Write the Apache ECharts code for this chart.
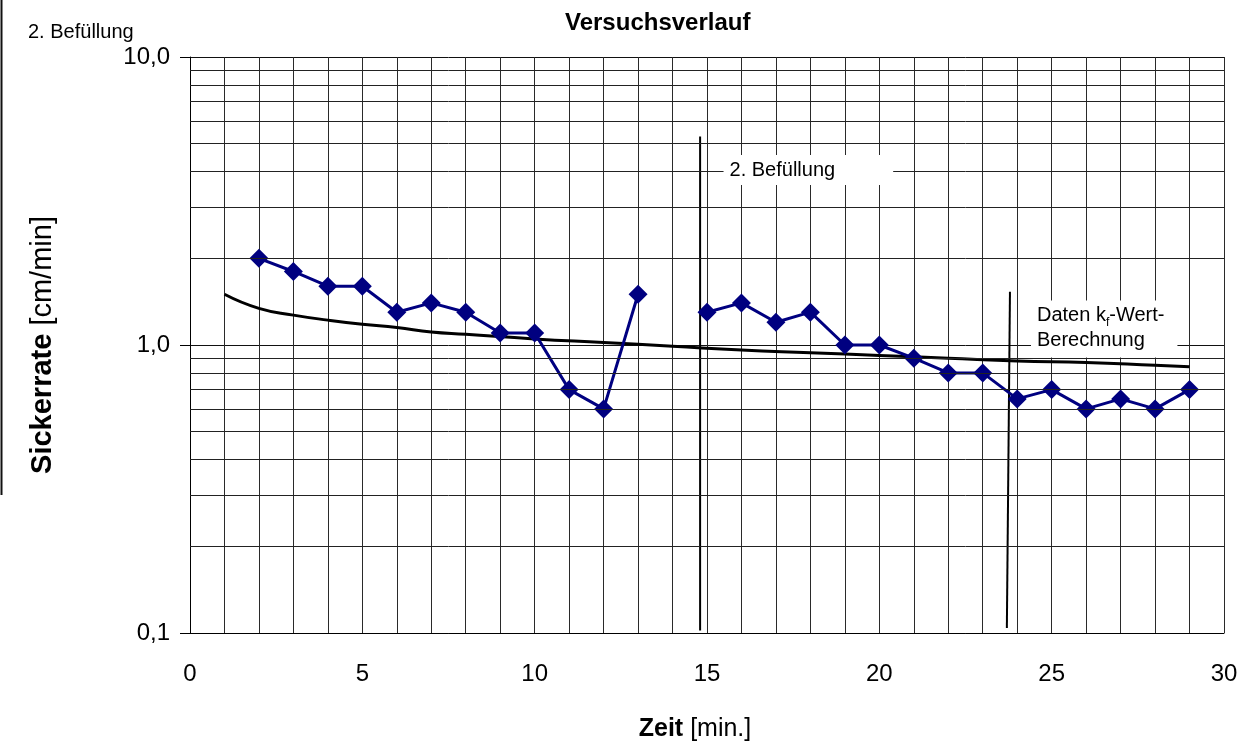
<!DOCTYPE html>
<html><head><meta charset="utf-8">
<script src="https://cdn.jsdelivr.net/npm/echarts@6/dist/echarts.min.js"></script>
<style>html,body{margin:0;padding:0;background:#fff}#c{width:1251px;height:747px}</style>
</head><body><div id="c"></div>
<script>
const FONT = "'Liberation Sans', Arial, Helvetica, sans-serif";

// measured series (time in min, rate in cm/min); null = gap (refill)
const times = [2,3,4,5,6,7,8,9,10,11,12,13,14,15,16,17,18,19,20,21,22,23,24,25,26,27,28,29];
const rates = [2.0,1.8,1.6,1.6,1.3,1.4,1.3,1.1,1.1,0.7,0.6,1.5,null,1.3,1.4,1.2,1.3,1.0,1.0,0.9,0.8,0.8,0.65,0.7,0.6,0.65,0.6,0.7];

// trend curve
const trendTimes = [1,2,3,4,5,6,7,8,10,12,14,16,18,20,22,24,26,28,29];
const trendRates = [1.50,1.34,1.27,1.22,1.18,1.15,1.11,1.09,1.05,1.02,0.99,0.96,0.94,0.92,0.90,0.88,0.87,0.85,0.84];

// axis ticks
const yMajorTicks = [0.1, 1, 10];
const yTickLabels = ['0,1', '1,0', '10,0'];
const yMinorGrid = [0.2,0.3,0.4,0.5,0.6,0.7,0.8,0.9,2,3,4,5,6,7,8,9];
const xLabelTicks = [0,5,10,15,20,25,30];

// annotation lines
const refillLineX = [14.8, 14.8];
const refillLineY = [0.102, 5.3];
const kfLineX = [23.7, 23.79];
const kfLineY = [0.104, 1.53];

// annotation labels (anchor points in data coords)
const refillNote = [15.48, 4.05];
const kfNote = [24.4, 1.137];

const chart = echarts.init(document.getElementById('c'), null, {renderer: 'canvas'});

const option = {
  animation: false,
  backgroundColor: '#fff',
  textStyle: {fontFamily: FONT},
  title: {
    text: 'Versuchsverlauf', left: 565, top: 11, padding: 0,
    textStyle: {fontSize: 24, fontWeight: 'bold', color: '#000', fontFamily: FONT}
  },
  grid: {left: 190, right: 27, top: 57, bottom: 114},
  xAxis: {
    type: 'value', min: 0, max: 30, interval: 1,
    axisLine: {show: true, onZero: false, lineStyle: {color: '#000', width: 1}},
    axisTick: {show: false},
    axisLabel: {
      formatter: v => xLabelTicks.includes(v) ? String(v) : '',
      fontSize: 24, color: '#000', margin: 29, fontFamily: FONT
    },
    splitLine: {show: true, lineStyle: {color: '#2a2a2a', width: 1}},
    name: '{b|Zeit}{r| [min.]}',
    nameLocation: 'middle', nameGap: 84,
    nameTextStyle: {
      padding: [0, 24, 0, 0],
      rich: {
        b: {fontSize: 25, fontWeight: 'bold', color: '#000', fontFamily: FONT},
        r: {fontSize: 25, color: '#000', fontFamily: FONT}
      }
    }
  },
  yAxis: {
    type: 'log', logBase: 10, min: 0.1, max: 10,
    axisLine: {show: true, lineStyle: {color: '#000', width: 1}},
    axisTick: {show: true, length: 10, inside: false, lineStyle: {color: '#000'}},
    axisLabel: {
      formatter: v => {
        let best = 0;
        yMajorTicks.forEach((t, i) => { if (Math.abs(Math.log10(t) - Math.log10(v)) < Math.abs(Math.log10(yMajorTicks[best]) - Math.log10(v))) best = i; });
        return yTickLabels[best];
      },
      fontSize: 24, color: '#000', margin: 20, fontFamily: FONT
    },
    splitLine: {show: true, lineStyle: {color: '#111', width: 1}},
    minorTick: {show: false},
    name: '{b|Sickerrate}{r| [cm/min]}',
    nameLocation: 'middle', nameGap: 133, nameRotate: 90,
    nameTextStyle: {
      rich: {
        b: {fontSize: 29, fontWeight: 'bold', color: '#000', fontFamily: FONT},
        r: {fontSize: 29, color: '#000', fontFamily: FONT}
      }
    }
  },
  series: [
    {
      name: 'grid', type: 'line', data: [[0, null]], z: 1, silent: true, showSymbol: false,
      markLine: {
        silent: true, symbol: ['none', 'none'], label: {show: false},
        lineStyle: {color: '#222', width: 1, type: 'solid'},
        emphasis: {disabled: true},
        data: yMinorGrid.map(v => ({yAxis: v}))
      }
    },
    {
      name: 'refill', type: 'line', z: 2, showSymbol: false, silent: true,
      data: refillLineX.map((x, i) => [x, refillLineY[i]]),
      lineStyle: {color: '#000', width: 2}
    },
    {
      name: 'kf', type: 'line', z: 2, showSymbol: false, silent: true,
      data: kfLineX.map((x, i) => [x, kfLineY[i]]),
      lineStyle: {color: '#000', width: 2}
    },
    {
      name: 'trend', type: 'line', z: 3, showSymbol: false, smooth: true, silent: true,
      data: trendTimes.map((t, i) => [t, trendRates[i]]),
      lineStyle: {color: '#000', width: 3}
    },
    {
      name: 'Sickerrate', type: 'line', z: 4, connectNulls: false,
      data: times.map((t, i) => [t, rates[i] === null ? '-' : rates[i]]),
      symbol: 'diamond', symbolSize: 19,
      lineStyle: {color: '#000080', width: 3},
      itemStyle: {color: '#000080'}
    },
    {
      name: 'notes', type: 'scatter', z: 10, symbol: 'circle', symbolSize: 0, silent: true,
      itemStyle: {color: 'rgba(0,0,0,0)', opacity: 1},
      data: [
        {
          value: refillNote,
          label: {
            show: true, position: 'right', distance: 0, opacity: 1,
            formatter: '2. Befüllung',
            fontSize: 20, color: '#000', fontFamily: FONT,
            backgroundColor: '#fff', padding: [5, 58, 5, 6]
          }
        },
        {
          value: kfNote,
          label: {
            show: true, position: 'right', distance: 0, opacity: 1,
            formatter: '{a|Daten k}{s|f}{a|-Wert-}\n{a|Berechnung}',
            backgroundColor: '#fff', padding: [3, 13, 4, 6],
            rich: {
              a: {fontSize: 20, lineHeight: 25, color: '#000', fontFamily: FONT},
              s: {fontSize: 12, lineHeight: 25, color: '#000', fontFamily: FONT, verticalAlign: 'bottom'}
            }
          }
        }
      ]
    }
  ],
  graphic: [
    {type: 'line', shape: {x1: 1.5, y1: 0, x2: 1.5, y2: 495}, style: {stroke: '#111', lineWidth: 2}, silent: true},
    {type: 'text', left: 28, top: 22, style: {text: '2. Befüllung', font: "20px 'Liberation Sans', Arial, sans-serif", fill: '#000'}, silent: true}
  ]
};
chart.setOption(option);
</script>
</body></html>
